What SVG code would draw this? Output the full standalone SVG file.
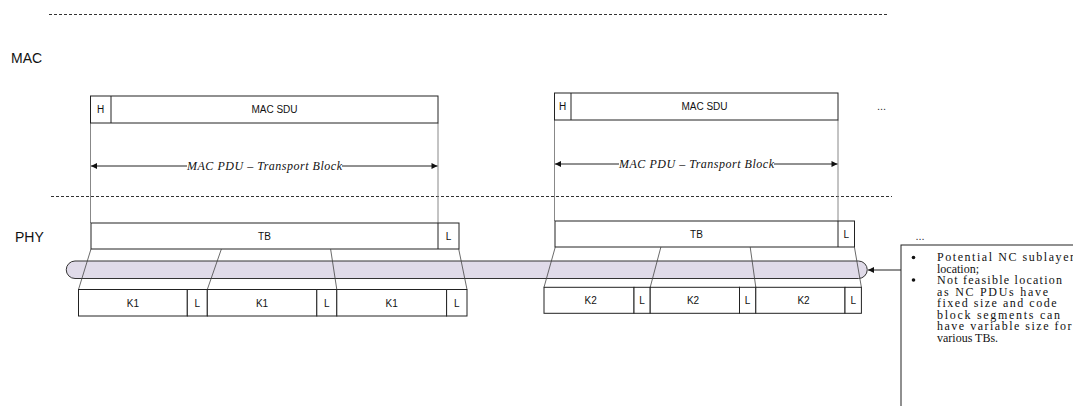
<svg xmlns="http://www.w3.org/2000/svg" width="1073" height="406" viewBox="0 0 1073 406">
<style>
.bx{fill:#fff;stroke:#222;stroke-width:1}
.lbl{font-family:"Liberation Sans",Arial,sans-serif;font-size:10px;fill:#111;text-anchor:middle}
.layer{font-family:"Liberation Sans",Arial,sans-serif;font-size:14px;fill:#111}
.dash{stroke:#333;stroke-width:1;stroke-dasharray:3 2;fill:none}
.vl{stroke:#888;stroke-width:1;fill:none}
.sl{stroke:#444;stroke-width:0.8;fill:none}
.ar{stroke:#222;stroke-width:1;fill:none}
.it{font-family:"Liberation Serif","Times New Roman",serif;font-style:italic;font-size:12px;fill:#111}
.nt{font-family:"Liberation Serif","Times New Roman",serif;font-size:12px;fill:#111}
.dots{font-family:"Liberation Sans",Arial,sans-serif;font-size:11px;fill:#333}
</style>
<defs>
<marker id="ah" viewBox="0 0 10 10" refX="10" refY="5" markerWidth="8" markerHeight="6" markerUnits="userSpaceOnUse" orient="auto">
<path d="M0,0 L10,5 L0,10 Z" fill="#111"/>
</marker>
</defs>
<rect width="1073" height="406" fill="#fff"/>

<g id="layers">
<line class="dash" x1="49" y1="14.5" x2="888" y2="14.5"/>
<line class="dash" x1="51" y1="196.5" x2="892" y2="196.5"/>
<text class="layer" x="11" y="63">MAC</text>
<text class="layer" x="15" y="242">PHY</text>
</g>

<g id="connectors">
<line class="vl" x1="90.5" y1="123" x2="90.5" y2="223"/>
<line class="vl" x1="438" y1="123" x2="438" y2="223"/>
<line class="vl" x1="554.5" y1="120" x2="554.5" y2="221"/>
<line class="vl" x1="838" y1="120" x2="838" y2="221"/>
<line class="ar" x1="187" y1="166" x2="91" y2="166" marker-end="url(#ah)"/>
<line class="ar" x1="342" y1="166" x2="437.5" y2="166" marker-end="url(#ah)"/>
<line class="ar" x1="619" y1="164" x2="555" y2="164" marker-end="url(#ah)"/>
<line class="ar" x1="774" y1="164" x2="837.5" y2="164" marker-end="url(#ah)"/>
<line class="ar" x1="901" y1="270" x2="868" y2="270" marker-end="url(#ah)"/>
</g>

<g id="pdu1">
<rect class="bx" x="90.5" y="96" width="347.5" height="27"/>
<line class="bx" x1="111" y1="96" x2="111" y2="123"/>
<text class="lbl" x="100.7" y="113">H</text>
<text class="lbl" x="274.5" y="113">MAC SDU</text>
<text class="it" x="187" y="169.5" textLength="155" lengthAdjust="spacing">MAC PDU – Transport Block</text>
</g>

<g id="pdu2">
<rect class="bx" x="554.5" y="93" width="283.5" height="27"/>
<line class="bx" x1="571" y1="93" x2="571" y2="120"/>
<text class="lbl" x="562.7" y="110">H</text>
<text class="lbl" x="704.5" y="110">MAC SDU</text>
<text class="it" x="619" y="167.5" textLength="155" lengthAdjust="spacing">MAC PDU – Transport Block</text>
<text class="dots" x="877" y="110">...</text>
</g>

<g id="bar">
<path d="M75,261 H858.5 A8.75,8.75 0 0 1 858.5,278.5 H75 A8.75,8.75 0 0 1 75,261 Z" fill="#e0dbe9" stroke="#333" stroke-width="1"/>
</g>

<g id="tb1">
<rect class="bx" x="91" y="223" width="368" height="26"/>
<line class="bx" x1="438" y1="223" x2="438" y2="249"/>
<text class="lbl" x="264.5" y="240">TB</text>
<text class="lbl" x="448.5" y="240">L</text>
</g>

<g id="tb2">
<rect class="bx" x="555" y="221" width="299.5" height="26"/>
<line class="bx" x1="838" y1="221" x2="838" y2="247"/>
<text class="lbl" x="696.5" y="238">TB</text>
<text class="lbl" x="846.2" y="238">L</text>
</g>

<g id="segments-lines">
<line class="sl" x1="91" y1="249" x2="78.5" y2="289.5"/>
<line class="sl" x1="221.4" y1="249" x2="207.3" y2="289.5"/>
<line class="sl" x1="330.6" y1="249" x2="336.8" y2="289.5"/>
<line class="sl" x1="458.7" y1="249" x2="467" y2="289.5"/>
<line class="sl" x1="555.3" y1="247" x2="544" y2="287.3"/>
<line class="sl" x1="660.9" y1="247" x2="650.2" y2="287.3"/>
<line class="sl" x1="750.2" y1="247" x2="755.8" y2="287.3"/>
<line class="sl" x1="854.4" y1="247" x2="861.4" y2="287.3"/>
</g>

<g id="cb1">
<rect class="bx" x="78.5" y="289.5" width="108.8" height="26.5"/>
<rect class="bx" x="187.3" y="289.5" width="20" height="26.5"/>
<rect class="bx" x="207.3" y="289.5" width="109.5" height="26.5"/>
<rect class="bx" x="316.8" y="289.5" width="20" height="26.5"/>
<rect class="bx" x="336.8" y="289.5" width="109.8" height="26.5"/>
<rect class="bx" x="446.6" y="289.5" width="20.4" height="26.5"/>
<text class="lbl" x="132.9" y="306.5">K1</text>
<text class="lbl" x="197.3" y="306.5">L</text>
<text class="lbl" x="262" y="306.5">K1</text>
<text class="lbl" x="326.8" y="306.5">L</text>
<text class="lbl" x="391.7" y="306.5">K1</text>
<text class="lbl" x="456.8" y="306.5">L</text>
</g>

<g id="cb2">
<rect class="bx" x="544" y="287.3" width="90" height="26"/>
<rect class="bx" x="634" y="287.3" width="16.2" height="26"/>
<rect class="bx" x="650.2" y="287.3" width="89.3" height="26"/>
<rect class="bx" x="739.5" y="287.3" width="16.3" height="26"/>
<rect class="bx" x="755.8" y="287.3" width="89.2" height="26"/>
<rect class="bx" x="845" y="287.3" width="16.4" height="26"/>
<text class="lbl" x="590.6" y="304">K2</text>
<text class="lbl" x="642.1" y="304">L</text>
<text class="lbl" x="693" y="304">K2</text>
<text class="lbl" x="747.6" y="304">L</text>
<text class="lbl" x="803.5" y="304">K2</text>
<text class="lbl" x="853.2" y="304">L</text>
</g>

<g id="note">
<text class="dots" x="915.5" y="240">...</text>
<rect class="bx" x="901" y="245" width="200" height="200"/>
<circle cx="913.5" cy="257.5" r="1.8" fill="#111"/>
<circle cx="913.5" cy="280" r="1.8" fill="#111"/>
<text class="nt" x="937" y="261" textLength="137" lengthAdjust="spacing">Potential NC sublayer</text>
<text class="nt" x="937" y="272.5">location;</text>
<text class="nt" x="937" y="284" textLength="125" lengthAdjust="spacing">Not feasible location</text>
<text class="nt" x="937" y="295.5" textLength="111" lengthAdjust="spacing">as NC PDUs have</text>
<text class="nt" x="937" y="307" textLength="119.5" lengthAdjust="spacing">fixed size and code</text>
<text class="nt" x="937" y="318.5" textLength="123" lengthAdjust="spacing">block segments can</text>
<text class="nt" x="937" y="330" textLength="134.5" lengthAdjust="spacing">have variable size for</text>
<text class="nt" x="937" y="341.5">various TBs.</text>
</g>
</svg>
